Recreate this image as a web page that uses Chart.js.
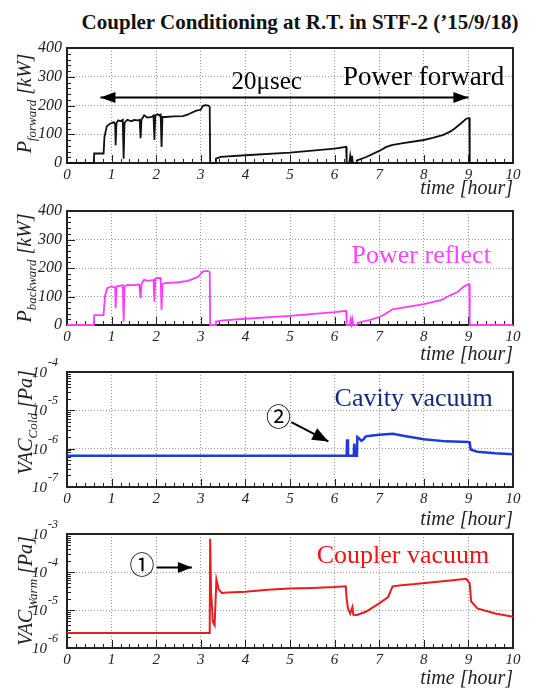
<!DOCTYPE html>
<html>
<head>
<meta charset="utf-8">
<script src="https://cdn.jsdelivr.net/npm/chart.js@4.4.0/dist/chart.umd.min.js"></script>
<style>
body { margin: 0; background: #fff; }
#wrap { position: relative; width: 537px; height: 689px; overflow: hidden; background: #fff; }
canvas { position: absolute; left: 0; }
#title { position: absolute; left: 0; top: 10px; width: 600px; text-align: center; line-height: 24px;
  font: bold 21px "Liberation Serif", "Times New Roman", serif; color: #111; white-space: nowrap; }
</style>
</head>
<body>
<div id="wrap">
  <div id="title">Coupler Conditioning at R.T. in STF-2 (’15/9/18)</div>
  <canvas id="c1" width="537" height="171" style="top:28px"></canvas>
  <canvas id="c2" width="537" height="170" style="top:195px"></canvas>
  <canvas id="c3" width="537" height="175" style="top:355px"></canvas>
  <canvas id="c4" width="537" height="174" style="top:515px"></canvas>
</div>
<script>
// time axis (hours) and tick labels
var hourTicks = [0, 1, 2, 3, 4, 5, 6, 7, 8, 9, 10];
var powerTicks = [0, 100, 200, 300, 400];
var cavityDecades = [-7, -6, -5, -4];
var couplerDecades = [-6, -5, -4, -3];

// forward power [kW]
var fwdTime = [0,0.6,0.61,0.82,0.84,0.89,0.95,1.0,1.05,1.08,1.09,1.11,1.15,1.2,1.25,1.27,1.29,1.35,1.45,1.5,
  1.6,1.63,1.65,1.67,1.73,1.8,1.9,1.94,1.96,1.98,2.03,2.07,2.1,2.12,2.14,2.2,2.4,2.6,2.7,2.78,
  2.9,3.0,3.04,3.1,3.17,3.2,3.21,3.33,3.34,3.45,4.0,5.0,6.0,6.26,6.27,6.33,6.35,6.37,6.39,6.41,
  6.49,6.5,6.7,7.0,7.15,7.28,7.5,8.0,8.2,8.44,8.6,8.7,8.85,8.95,9.02,9.03,10];
var fwdPower = [0,0,33,33,90,127,135,139,142,135,62,140,148,145,150,15,140,150,145,150,
  148,150,86,150,166,158,160,165,80,165,170,165,168,56,160,160,162,163,168,174,
  182,185,198,201,200,195,0,0,15,21,27,36,50,56,0,0,25,5,25,0,
  0,9,20,42,55,62,68,80,87,98,110,121,140,154,156,0,0];

// reflected power [kW]
var bwdTime = [0,0.6,0.61,0.82,0.85,0.9,1.0,1.08,1.09,1.11,1.2,1.25,1.27,1.29,1.35,1.5,1.62,1.65,1.67,1.73,
  1.8,1.94,1.96,1.98,2.03,2.1,2.12,2.14,2.2,2.5,2.7,2.8,2.95,3.0,3.05,3.15,3.2,3.21,3.33,3.34,
  3.5,4.0,5.0,6.0,6.26,6.27,6.34,6.36,6.38,6.4,6.42,6.5,6.52,6.8,7.0,7.1,7.3,7.6,8.0,8.4,
  8.6,8.75,8.9,8.98,9.02,9.03,10];
var bwdPower = [0,0,35,35,100,129,135,132,59,135,138,140,12,135,141,140,142,94,145,159,
  155,158,82,163,165,165,53,144,147,150,155,160,170,180,188,190,185,0,0,12,
  16,22,32,45,50,0,0,20,3,20,0,0,8,18,28,35,55,63,73,88,
  105,115,135,142,143,0,0];

// cavity vacuum [Pa]
var cavTime = [0,3,6.27,6.28,6.3,6.43,6.44,6.46,6.5,6.51,6.56,6.6,6.65,6.7,6.85,7.0,7.3,7.6,8.0,8.5,
  9.0,9.03,9.05,9.2,9.6,10];
var cavPress = [6.5e-7,6.5e-7,6.5e-7,1.75e-6,6.5e-7,6.5e-7,1.35e-6,6.5e-7,6.5e-7,2.0e-6,1.8e-6,1.6e-6,1.75e-6,2.1e-6,2.2e-6,2.3e-6,2.45e-6,2.1e-6,1.75e-6,1.55e-6,
  1.5e-6,1.45e-6,9.5e-7,8.3e-7,7.6e-7,7.2e-7];

// coupler vacuum [Pa]
var cplTime = [0,3.2,3.21,3.23,3.27,3.31,3.35,3.4,3.47,3.6,4.0,4.5,5.0,5.5,6.0,6.25,6.27,6.3,6.35,6.4,
  6.42,6.5,6.7,7.0,7.2,7.3,7.5,7.8,8.2,8.6,8.95,9.03,9.06,9.2,9.6,10];
var cplPress = [2.5e-6,2.5e-6,7.5e-4,3e-5,5e-6,4e-6,6.3e-5,3.5e-5,2.8e-5,2.9e-5,3.0e-5,3.4e-5,3.7e-5,3.8e-5,4.0e-5,4.2e-5,2e-5,1.1e-5,8e-6,1.2e-5,
  7.5e-6,7.4e-6,9e-6,1.5e-5,2.2e-5,4.2e-5,4.5e-5,4.8e-5,5.4e-5,6e-5,6.6e-5,5e-5,1.7e-5,1.1e-5,8.1e-6,6.6e-6];

var serif = '"Liberation Serif", "Times New Roman", serif';
var circled = '"Liberation Serif", "Noto Sans CJK JP", serif';
var ink = '#222';

function pts(xs, ys) {
    return xs.map(function (t, i) { return {x: t, y: ys[i]}; });
}

function arrowHead(ctx, tx, ty, fx, fy, hl, hw) {
    var ang = Math.atan2(ty - fy, tx - fx);
    ctx.save();
    ctx.translate(tx, ty);
    ctx.rotate(ang);
    ctx.beginPath();
    ctx.moveTo(0, 0);
    ctx.lineTo(-hl, hw / 2);
    ctx.lineTo(-hl, -hw / 2);
    ctx.closePath();
    ctx.fill();
    ctx.restore();
}

// ROOT-like frame, inner tick marks, log labels, axis title with subscript, notes
var decor = {
    id: 'decor',
    beforeDatasetsDraw: function (chart, args, o) {
        var ctx = chart.ctx, a = chart.chartArea, x = chart.scales.x, y = chart.scales.y;
        ctx.save();
        ctx.strokeStyle = ink;
        ctx.lineWidth = 1;
        ctx.beginPath();
        for (var i = 0; i <= 50; i++) {
            var px = Math.round(x.getPixelForValue(i / 5)) + 0.5;
            var len = i % 5 === 0 ? 8 : 4;
            ctx.moveTo(px, a.bottom);
            ctx.lineTo(px, a.bottom - len);
        }
        if (o.decades) {
            for (var d = o.decades[0]; d < o.decades[o.decades.length - 1]; d++) {
                for (var k = 1; k <= 9; k++) {
                    var py = Math.round(y.getPixelForValue(k * Math.pow(10, d))) + 0.5;
                    ctx.moveTo(a.left, py);
                    ctx.lineTo(a.left + (k === 1 ? 8 : 4), py);
                }
            }
        } else {
            var top = powerTicks[powerTicks.length - 1];
            for (var v = 0; v <= top; v += 20) {
                var py2 = Math.round(y.getPixelForValue(v)) + 0.5;
                ctx.moveTo(a.left, py2);
                ctx.lineTo(a.left + (v % 100 === 0 ? 8 : 4), py2);
            }
        }
        ctx.stroke();
        ctx.lineWidth = 2;
        ctx.strokeRect(a.left, a.top, a.right - a.left, a.bottom - a.top);
        ctx.restore();
    },
    afterDraw: function (chart, args, o) {
        var ctx = chart.ctx, a = chart.chartArea, x = chart.scales.x, y = chart.scales.y;
        ctx.save();
        ctx.fillStyle = ink;
        // log axis labels 10^n
        if (o.decades) {
            o.decades.forEach(function (d) {
                var py = y.getPixelForValue(Math.pow(10, d));
                ctx.font = 'italic 15px ' + serif;
                ctx.textAlign = 'right';
                ctx.textBaseline = 'alphabetic';
                ctx.fillText('10', a.left - 20, py + 5);
                ctx.font = 'italic 12px ' + serif;
                ctx.textAlign = 'left';
                ctx.fillText(String(d), a.left - 19, py - 6);
            });
        }
        // y title with subscript
        var t = o.ytitle;
        ctx.save();
        ctx.translate(t.x, (a.top + a.bottom) / 2 + t.dy);
        ctx.rotate(-Math.PI / 2);
        ctx.textAlign = 'left';
        ctx.textBaseline = 'alphabetic';
        var big = 'italic 20px ' + serif, small = 'italic 13px ' + serif;
        ctx.font = big;
        var w1 = ctx.measureText(t.main).width, w3 = ctx.measureText(t.unit).width;
        ctx.font = small;
        var w2 = ctx.measureText(t.sub).width;
        var sx = -(w1 + w2 + w3) / 2;
        ctx.font = big;
        ctx.fillText(t.main, sx, 0);
        ctx.font = small;
        ctx.fillText(t.sub, sx + w1, 5);
        ctx.font = big;
        ctx.fillText(t.unit, sx + w1 + w2, 0);
        ctx.restore();
        // notes
        (o.notes || []).forEach(function (n) {
            ctx.font = n.font;
            ctx.fillStyle = n.color || ink;
            ctx.textAlign = n.align || 'left';
            ctx.textBaseline = n.base || 'alphabetic';
            ctx.fillText(n.text, x.getPixelForValue(n.x), y.getPixelForValue(n.y));
        });
        // arrows
        ctx.strokeStyle = '#000';
        ctx.fillStyle = '#000';
        (o.arrows || []).forEach(function (r) {
            var x1 = x.getPixelForValue(r.x1), y1 = y.getPixelForValue(r.y1);
            var x2 = x.getPixelForValue(r.x2), y2 = y.getPixelForValue(r.y2);
            ctx.lineWidth = 2;
            ctx.beginPath();
            ctx.moveTo(x1, y1);
            ctx.lineTo(x2, y2);
            ctx.stroke();
            arrowHead(ctx, x2, y2, x1, y1, r.hl, r.hw);
            if (r.both) arrowHead(ctx, x1, y1, x2, y2, r.hl, r.hw);
        });
        ctx.restore();
    }
};

function makeChart(id, cfg) {
    var yScale;
    if (cfg.decades) {
        yScale = {
            type: 'logarithmic',
            min: Math.pow(10, cfg.decades[0]),
            max: Math.pow(10, cfg.decades[cfg.decades.length - 1]),
            afterBuildTicks: function (s) {
                s.ticks = cfg.decades.map(function (d) { return {value: Math.pow(10, d)}; });
            },
            ticks: {display: false},
            grid: {color: '#999', lineWidth: 1, drawTicks: false},
            border: {display: false, dash: [1, 2]},
            afterFit: function (s) { s.width = 67; }
        };
    } else {
        yScale = {
            type: 'linear',
            min: powerTicks[0],
            max: powerTicks[powerTicks.length - 1],
            afterBuildTicks: function (s) {
                s.ticks = powerTicks.map(function (v) { return {value: v}; });
            },
            ticks: {color: ink, padding: 5, font: {family: serif, size: 16, style: 'italic'}},
            grid: {color: '#999', lineWidth: 1, drawTicks: false},
            border: {display: false, dash: [1, 2]},
            afterFit: function (s) { s.width = 67; }
        };
    }
    return new Chart(document.getElementById(id), {
        type: 'line',
        data: {
            datasets: [{
                data: pts(cfg.t, cfg.v),
                borderColor: cfg.color,
                borderWidth: cfg.lw || 1.8,
                pointRadius: 0,
                tension: 0,
                clip: 4
            }]
        },
        options: {
            responsive: false,
            animation: false,
            devicePixelRatio: 1,
            layout: {padding: {top: cfg.padTop, right: 24, left: 0, bottom: 0}},
            scales: {
                x: {
                    type: 'linear',
                    min: hourTicks[0],
                    max: hourTicks[hourTicks.length - 1],
                    afterBuildTicks: function (s) {
                        s.ticks = hourTicks.map(function (v) { return {value: v}; });
                    },
                    ticks: {color: ink, padding: 3, maxRotation: 0, autoSkip: false,
                        font: {family: serif, size: 15, style: 'italic'}},
                    grid: {color: '#999', lineWidth: 1, drawTicks: false},
                    border: {display: false, dash: [1, 2]},
                    title: {display: true, text: 'time [hour]', align: 'end', color: ink,
                        padding: {top: 0, bottom: 0},
                        font: {family: serif, size: 20, style: 'italic', lineHeight: 1}},
                    afterFit: function (s) { s.height = cfg.xHeight; }
                },
                y: yScale
            },
            plugins: {
                legend: {display: false},
                tooltip: {enabled: false},
                decor: {decades: cfg.decades, ytitle: cfg.ytitle, notes: cfg.notes, arrows: cfg.arrows}
            }
        },
        plugins: [decor]
    });
}

makeChart('c1', {
    t: fwdTime, v: fwdPower, color: '#111', padTop: 20, xHeight: 36,
    ytitle: {main: 'P', sub: 'forward', unit: ' [kW]', x: 31, dy: -2},
    notes: [
        {text: 'Power forward', x: 6.19, y: 270, font: '27px ' + serif, color: '#000'},
        {text: '20μsec', x: 3.69, y: 256, font: '25px ' + serif, color: '#000'}
    ],
    arrows: [{x1: 0.75, y1: 228, x2: 9.0, y2: 228, hl: 15, hw: 11, both: true}]
});

makeChart('c2', {
    t: bwdTime, v: bwdPower, color: '#ff3cff', padTop: 16, xHeight: 40,
    ytitle: {main: 'P', sub: 'backward', unit: ' [kW]', x: 31, dy: 0},
    notes: [
        {text: 'Power reflect', x: 6.38, y: 219, font: '26px ' + serif, color: '#ff44ff'}
    ]
});

makeChart('c3', {
    t: cavTime, v: cavPress, color: '#1f3ad6', lw: 2.5, padTop: 17, xHeight: 43,
    decades: cavityDecades,
    ytitle: {main: 'VAC', sub: 'Cold', unit: ' [Pa]', x: 32, dy: -7},
    notes: [
        {text: 'Cavity vacuum', x: 6.0, y: Math.pow(10, -4.88), font: '26px ' + serif, color: '#14287e'},
        {text: '②', x: 4.74, y: Math.pow(10, -5.24), font: '25px ' + circled, color: '#000', align: 'center', base: 'middle'}
    ],
    arrows: [{x1: 5.03, y1: Math.pow(10, -5.31), x2: 5.86, y2: Math.pow(10, -5.81), hl: 16, hw: 13}]
});

makeChart('c4', {
    t: cplTime, v: cplPress, color: '#ea1c1c', lw: 2, padTop: 19, xHeight: 41,
    decades: couplerDecades,
    ytitle: {main: 'VAC', sub: 'Warm', unit: ' [Pa]', x: 32, dy: 0},
    notes: [
        {text: 'Coupler vacuum', x: 5.6, y: Math.pow(10, -3.75), font: '26px ' + serif, color: '#f01414'},
        {text: '①', x: 1.68, y: Math.pow(10, -3.88), font: '25px ' + circled, color: '#000', align: 'center', base: 'middle'}
    ],
    arrows: [{x1: 2.01, y1: Math.pow(10, -3.88), x2: 2.8, y2: Math.pow(10, -3.88), hl: 14, hw: 11}]
});
</script>
</body>
</html>
